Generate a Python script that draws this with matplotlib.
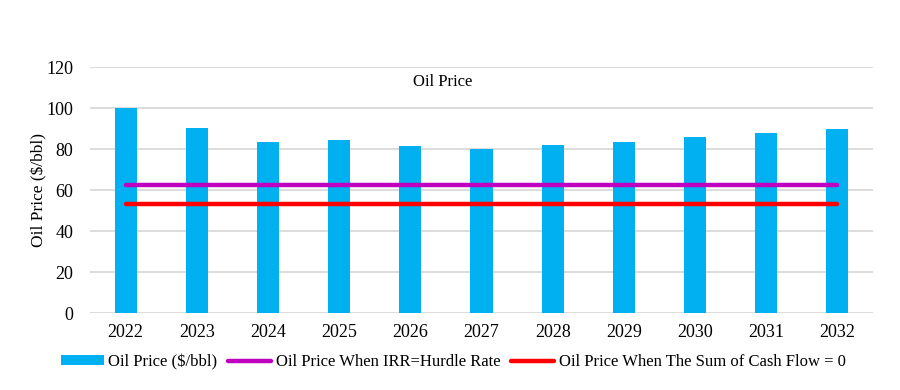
import numpy as np
import matplotlib.pyplot as plt

years = ['2022', '2023', '2024', '2025', '2026', '2027', '2028', '2029', '2030', '2031', '2032']
oil_price = [100, 90.2, 83.4, 84.4, 81.5, 80.0, 82.0, 83.4, 85.9, 87.8, 89.8]
irr_price = [62.3] * len(years)
zero_cf_price = [53.0] * len(years)

plt.rcParams['font.family'] = ['Liberation Serif', 'DejaVu Serif']

fig = plt.figure(figsize=(9, 3.9), dpi=100)
ax = fig.add_axes([0.1, 0.197, 0.87, 0.631])

x = np.arange(len(years))
b = ax.bar(x, oil_price, width=0.31, color='#00b0f0', label='Oil Price ($/bbl)', zorder=2)
l1, = ax.plot(x, irr_price, color='#c000c0', lw=3.2, solid_capstyle='round',
              label='Oil Price When IRR=Hurdle Rate', zorder=3)
l2, = ax.plot(x, zero_cf_price, color='#ff0000', lw=3.2, solid_capstyle='round',
              label='Oil Price When The Sum of Cash Flow = 0', zorder=3)

ax.set_xlim(-0.5, len(years) - 0.5)
ax.set_ylim(0, 120)
ax.set_yticks(range(0, 121, 20))
ax.set_xticks(x)
ax.set_xticklabels(years)
ax.tick_params(length=0, labelsize=13, pad=8)
ax.tick_params(axis='y', pad=12)
ax.grid(axis='y', color='#d9d9d9', lw=1.3, zorder=0)
for s in ax.spines.values():
    s.set_visible(False)
ax.set_ylabel('Oil Price ($/bbl)', fontsize=12.5)
ax.yaxis.set_label_coords(-0.054, 0.5)

fig.text(443 / 900, 1 - 82 / 390, 'Oil Price', ha='center', va='center', fontsize=12)

fig.legend(handles=[b, l1, l2], loc='center', bbox_to_anchor=(453 / 900, 1 - 362 / 390),
           ncol=3, frameon=False, fontsize=12, handlelength=2.6, handleheight=0.5,
           handletextpad=0.25, columnspacing=0.65, borderaxespad=0)

plt.savefig('out.png', dpi=100)
